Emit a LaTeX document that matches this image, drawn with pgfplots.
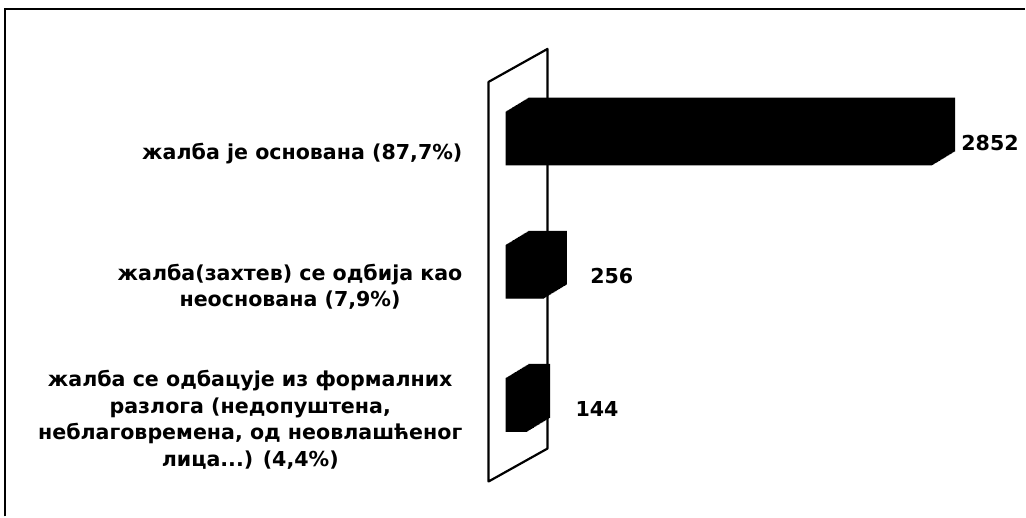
\documentclass[border=0pt]{standalone}
\usepackage{fontspec}
\setmainfont{DejaVu Sans}
\usepackage{pgfplots}
\usepackage{pgfplotstable}
\pgfplotsset{compat=1.18}

% categories bottom to top: y, value, label x offset
\pgfplotstableread{
y v lx
0 144 70
1 256 68
2 2852 58
}\appeals

\begin{document}
\begin{tikzpicture}
\path (0,0) rectangle (1026pt,517pt);
% frame (runs off the right and bottom edge)
\draw[line width=2pt] (5pt,0pt) -- (5pt,508pt) -- (1026pt,508pt);
\begin{axis}[
  at={(506pt,45pt)}, anchor=south west,
  scale only axis,
  width=449.16pt, height=400pt,
  xmin=0, xmax=3000,
  ymin=-0.5, ymax=2.5,
  clip=false,
  set layers,
  axis line style={draw=none},
  xtick=\empty,
  ytick={0,1,2},
  major tick length=0pt,
  yticklabels={
    {жалба се одбацује из формалних\\разлога (недопуштена,\\неблаговремена, од неовлашћеног\\лица.{}.{}.) (4,4\%)},
    {жалба(захтев) се одбија као\\неоснована (7,9\%)},
    {жалба је основана (87,7\%)}},
  yticklabel style={font=\bfseries\fontsize{20.6}{26.7}\selectfont,
    align=center, anchor=east, inner sep=0pt, xshift=-43pt, yshift=-15pt},
  bar width=54pt,
]
% back wall
\begin{pgfonlayer}{axis background}
\draw[line width=2.2pt, line join=round]
  ([shift={(-17pt,-10pt)}]rel axis cs:0,0) -- ([shift={(-17pt,-10pt)}]rel axis cs:0,1)
  -- ([shift={(42pt,23pt)}]rel axis cs:0,1) -- ([shift={(42pt,23pt)}]rel axis cs:0,0) -- cycle;
\end{pgfonlayer}
% bars: front face swept back in depth
\pgfplotsinvokeforeach{24,23,...,0}{
  \addplot[xbar, bar shift=0pt, fill=black, draw=none,
    xshift={23pt*#1/24}, yshift={14pt*#1/24}]
    table[x=v, y=y] {\appeals};
}
% value labels
\addplot[xbar, bar shift=0pt, draw=none, fill=none,
  point meta=explicit symbolic,
  visualization depends on={\thisrow{lx} \as \lx},
  nodes near coords,
  every node near coord/.append style={anchor=center, xshift=\lx pt, yshift=-4pt,
    font=\bfseries\fontsize{20.6}{24}\selectfont, text=black}]
  table[x=v, y=y, meta=v] {\appeals};
\end{axis}
\end{tikzpicture}
\end{document}
